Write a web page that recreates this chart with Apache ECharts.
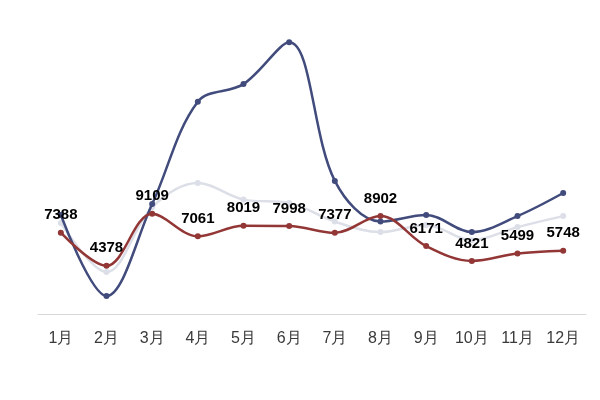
<!DOCTYPE html>
<html>
<head>
<meta charset="utf-8">
<script src="https://cdn.jsdelivr.net/npm/echarts@6/dist/echarts.min.js"></script>
<style>html,body{margin:0;padding:0;background:#fff}#c{width:600px;height:400px}</style>
</head>
<body>
<div id="c"></div>
<script>
const categories = ['1月','2月','3月','4月','5月','6月','7月','8月','9月','10月','11月','12月'];
const navyValues = [9000, 1640, 10000, 19300, 20900, 24700, 12100, 8400, 9000, 7450, 8900, 11000];
const grayValues = [8270, 3820, 9700, 11900, 10400, 10100, 8400, 7450, 8100, 6700, 7900, 8900];
const redValues = [7388, 4378, 9109, 7061, 8019, 7998, 7377, 8902, 6171, 4821, 5499, 5748];

const chart = echarts.init(document.getElementById('c'));
const lineStyleFor = (color) => ({
  type: 'line', smooth: 0.35, symbol: 'circle', symbolSize: 6,
  itemStyle: { color: color }, lineStyle: { color: color, width: 2.5 }
});
chart.setOption({
  animation: false,
  backgroundColor: '#fff',
  grid: { left: 38, right: 14, top: 39, bottom: 86 },
  xAxis: {
    type: 'category', data: categories, boundaryGap: true,
    axisLine: { lineStyle: { color: '#d9d9d9', width: 1 } },
    axisTick: { show: false },
    axisLabel: { color: '#3a3a3a', fontSize: 16, margin: 17, fontFamily: 'Liberation Sans, Arial, sans-serif' }
  },
  yAxis: {
    type: 'value', min: 0, max: 25000, show: false,
    splitLine: { show: false }
  },
  series: [
    Object.assign(lineStyleFor('#dcdfe7'), { name: 'gray', data: grayValues, z: 1 }),
    Object.assign(lineStyleFor('#414b7c'), { name: 'navy', data: navyValues, z: 2 }),
    Object.assign(lineStyleFor('#923736'), { name: 'red', data: redValues, z: 3,
      label: { show: true, position: 'top', distance: 7, color: '#000', fontWeight: 'bold', fontSize: 15,
        fontFamily: 'Liberation Sans, Arial, sans-serif' } })
  ]
});
</script>
</body>
</html>
